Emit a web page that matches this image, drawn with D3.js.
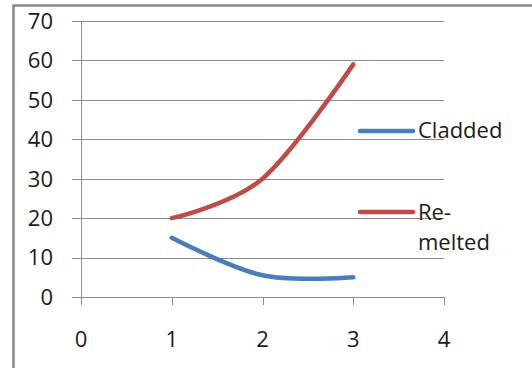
<!DOCTYPE html>
<html>
<head>
<meta charset="utf-8">
<script src="https://cdn.jsdelivr.net/npm/d3@7"></script>
<style>
html,body{margin:0;padding:0;background:#fff;}
svg{display:block;}
text{font-family:"Open Sans",sans-serif;fill:#1a1a1a;}
</style>
</head>
<body>
<div id="chart"></div>
<script>
const xValues = [1, 2, 3];
const cladded = [15, 5.5, 5];
const remelted = [20, 30, 59];
const seriesNames = ["Cladded", "Re-melted"];
const xTicks = [0, 1, 2, 3, 4];
const yTicks = [0, 10, 20, 30, 40, 50, 60, 70];

const W = 532, H = 368;
const svg = d3.select("#chart").append("svg").attr("width", W).attr("height", H);

// chart frame (extends past the picture on right and bottom)
svg.append("rect").attr("x", 13.5).attr("y", 5.5).attr("width", 600).attr("height", 500)
  .attr("fill", "#fff").attr("stroke", "#868686").attr("stroke-width", 2.5);

const x = d3.scaleLinear().domain([0, 4]).range([81, 444]);
const y = d3.scaleLinear().domain([0, 70]).range([297, 21]);

// gridlines + y ticks
const gy = svg.append("g");
gy.selectAll("line").data(yTicks).join("line")
  .attr("x1", 72).attr("x2", x(4))
  .attr("y1", d => Math.round(y(d)) + 0.5).attr("y2", d => Math.round(y(d)) + 0.5)
  .attr("stroke", "#8c8c8c").attr("stroke-width", 1);
gy.selectAll("text").data(yTicks).join("text")
  .attr("x", 53).attr("y", d => y(d)).attr("dy", "0.36em")
  .attr("text-anchor", "end").attr("font-size", 22).text(d => d);

// y axis line
svg.append("line").attr("x1", x(0) + 0.5).attr("x2", x(0) + 0.5)
  .attr("y1", y(70)).attr("y2", y(0) + 8).attr("stroke", "#8c8c8c");

// x ticks
const gx = svg.append("g");
gx.selectAll("line").data(xTicks).join("line")
  .attr("x1", d => Math.round(x(d)) + 0.5).attr("x2", d => Math.round(x(d)) + 0.5)
  .attr("y1", y(0)).attr("y2", y(0) + 8)
  .attr("stroke", "#8c8c8c");
gx.selectAll("text").data(xTicks).join("text")
  .attr("x", d => x(d)).attr("y", 347)
  .attr("text-anchor", "middle").attr("font-size", 22).text(d => d);

// series
const line = d3.line().x(d => x(d[0])).y(d => y(d[1])).curve(d3.curveCardinal.tension(0));
const series = [
  {name: seriesNames[0], values: cladded, color: "#4a7ebb"},
  {name: seriesNames[1], values: remelted, color: "#be4b48"}
];
series.forEach(s => {
  svg.append("path").datum(xValues.map((v, i) => [v, s.values[i]]))
    .attr("d", line).attr("fill", "none").attr("stroke", s.color)
    .attr("stroke-width", 4.5).attr("stroke-linecap", "round");
});

// legend
const legY = [131, 212];
series.forEach((s, i) => {
  svg.append("line").attr("x1", 360).attr("x2", 413).attr("y1", legY[i]).attr("y2", legY[i])
    .attr("stroke", s.color).attr("stroke-width", 4.5).attr("stroke-linecap", "round");
});
svg.append("text").attr("x", 418).attr("y", 138).attr("font-size", 22).text(seriesNames[0]);
const t2 = svg.append("text").attr("x", 418).attr("y", 220).attr("font-size", 22);
t2.append("tspan").attr("x", 418).text("Re-");
t2.append("tspan").attr("x", 418).attr("dy", 30).text("melted");
</script>
</body>
</html>
